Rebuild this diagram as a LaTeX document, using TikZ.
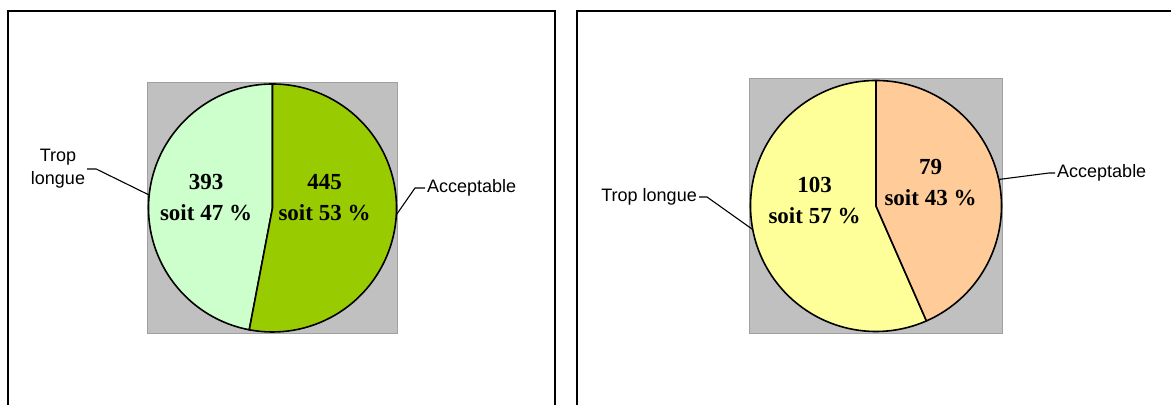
\documentclass[tikz,border=0pt]{standalone}
\usepackage{fontspec}
\setmainfont{Liberation Serif}
\newfontfamily\lblfont{Liberation Sans}
\definecolor{paleGreen}{HTML}{CCFFCC}
\definecolor{leafGreen}{HTML}{99CC00}
\definecolor{paleYellow}{HTML}{FFFF99}
\definecolor{peach}{HTML}{FFCC99}
\definecolor{plotGray}{HTML}{C0C0C0}
\definecolor{plotEdge}{HTML}{A0A0A0}
\begin{document}
\begin{tikzpicture}[x=1pt,y=1pt,
        panel/.style={line width=1.8pt},
        plotarea/.style={fill=plotGray,draw=plotEdge,line width=1pt},
        slice/.style={draw=black,line width=1.6pt,line join=round},
        value/.style={font={\fontsize{23}{31}\selectfont\bfseries},align=center},
        legend/.style={font={\lblfont\fontsize{18}{23}\selectfont},align=center,inner sep=2pt},
        leader/.style={line width=1.1pt}]
        \useasboundingbox (0,0) rectangle (1171,405);
        \draw[panel] (8,0) -- (8,394) -- (555,394) -- (555,0);
        \draw[panel] (577,0) -- (577,394) -- (1171,394);
        \filldraw[plotarea] (147,72) rectangle (397,322);
        \filldraw[plotarea] (749,72) rectangle (1002,326);
        \coordinate (cA) at (272.5,197);
        \coordinate (cB) at (876,199);
        \filldraw[slice,fill=paleGreen] (cA) -- ++(0,124) arc (90:259.2:124) -- cycle;
        \filldraw[slice,fill=leafGreen] (cA) -- ++(0,124) arc (90:-100.8:124) -- cycle;
        \filldraw[slice,fill=paleYellow] (cB) -- ++(0,125.5) arc (90:293.7:125.5) -- cycle;
        \filldraw[slice,fill=peach] (cB) -- ++(0,125.5) arc (90:-66.3:125.5) -- cycle;
        \node[value] (vA1) at (206,207) {393\\soit 47 \%};
        \node[value] (vA2) at (324.5,207) {445\\soit 53 \%};
        \node[value] (vB1) at (814.5,204) {103\\soit 57 \%};
        \node[value] (vB2) at (930.5,222.5) {79\\soit 43 \%};
        \node[legend] (tropA) at (58,236) {Trop\\longue};
        \node[legend,anchor=west] (accA) at (425,217) {Acceptable};
        \node[legend,anchor=east] (tropB) at (699,208) {Trop longue};
        \node[legend,anchor=west] (accB) at (1055,232) {Acceptable};
        \path (cA) ++(174:124) coordinate (eA1);
        \path (cA) ++(-3.2:124) coordinate (eA2);
        \path (cB) ++(190.8:125.5) coordinate (eB1);
        \path (cB) ++(12.2:125.5) coordinate (eB2);
        \draw[leader] (tropA.east) -- ++(9,0) -- (eA1);
        \draw[leader] (accA.west) -- ++(-10,0) -- (eA2);
        \draw[leader] (tropB.east) -- ++(8,0) -- (eB1);
        \draw[leader] (accB.west) -- ++(-6,0) -- (eB2);
\end{tikzpicture}
\end{document}
